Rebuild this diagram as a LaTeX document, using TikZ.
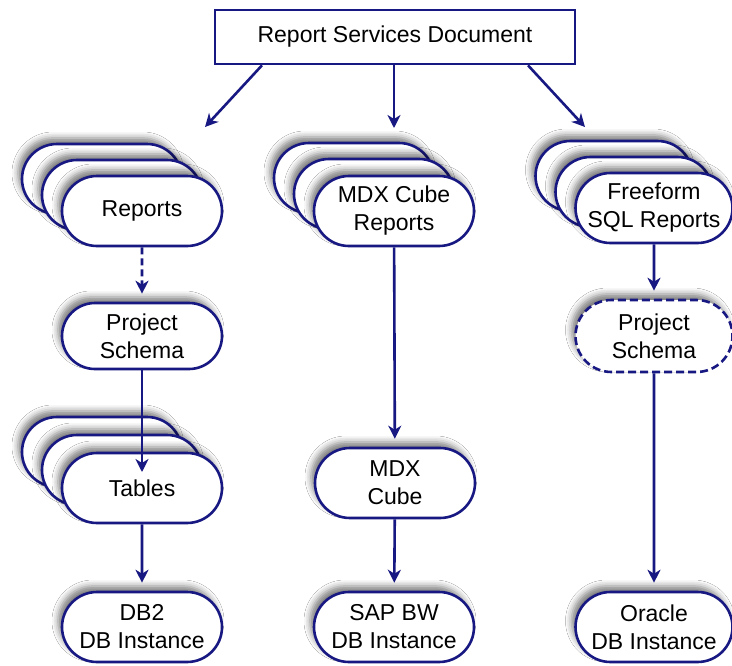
\documentclass[tikz,border=0pt]{standalone}
\usepackage{fontspec}
\setmainfont{Liberation Sans}
\usetikzlibrary{shapes.misc,arrows.meta,shadows.blur}
\definecolor{navy}{RGB}{24,24,130}
\begin{document}
\begin{tikzpicture}[x=1pt,y=-1pt,
  txt/.style={font=\fontsize{23}{28}\selectfont},
  pill/.style={rounded rectangle, draw=navy, line width=2.6pt, fill=white,
    minimum width=160pt, minimum height=70pt, inner sep=0pt, align=center, txt,
    blur shadow={shadow xshift=-4pt, shadow yshift=6pt, shadow blur radius=6pt, shadow opacity=50}},
  dpill/.style={pill, dash pattern=on 8pt off 4pt},
  conn/.style={draw=navy, line width=2.6pt, shorten >=8pt, -{Stealth[length=13pt,width=13pt,inset=4pt]}},
  dconn/.style={conn, dash pattern=on 7pt off 4pt}
]
\path[use as bounding box, fill=white] (0,0) rectangle (732,665);

% top box
\node[draw=navy, line width=2.6pt, fill=white, minimum width=360pt, minimum height=54pt, txt] (doc) at (395,37) {Report Services Document};
\coordinate (lt) at (205,127);
\coordinate (mt) at (394,128);
\coordinate (rt) at (585,127);
\draw[conn, shorten >=0pt] ([xshift=-133pt]doc.south) -- (lt);
\draw[conn, shorten >=0pt] ([xshift=-1pt]doc.south) -- (mt);
\draw[conn, shorten >=0pt] ([xshift=133pt]doc.south) -- (rt);

% left column
\node[pill] (rep3) at (102,179) {};
\node[pill] (rep2) at (122,195) {};
\node[pill] (rep) at (142,211) {Reports};
\node[pill, minimum height=66pt] (ps1) at (142,336) {Project\\Schema};
\draw[dconn] (rep) -- (ps1);
\node[pill] (tab3) at (102,452) {};
\node[pill] (tab2) at (122,470) {};
\node[pill] (tab) at (142,488) {Tables};
\coordinate (tabin) at (142,472);
\draw[conn, shorten >=0pt] (ps1) -- (tabin);
\node[pill] (db2) at (142,627) {DB2\\DB Instance};
\draw[conn] (tab) -- (db2);

% middle column
\node[pill] (mdxr3) at (354,178) {};
\node[pill] (mdxr2) at (374,194) {};
\node[pill] (mdxr) at (394,211) {MDX Cube\\Reports};
\node[pill] (mdx) at (395,483) {MDX\\Cube};
\draw[conn] (mdxr) -- (mdx);
\node[pill] (sap) at (394,627) {SAP BW\\DB Instance};
\draw[conn] (mdx) -- (sap);

% right column
\node[pill, minimum width=157pt] (ff3) at (614,176) {};
\node[pill, minimum width=157pt] (ff2) at (634,192) {};
\node[pill, minimum width=157pt] (ff) at (654,208) {Freeform\\SQL Reports};
\node[dpill, minimum width=157pt, minimum height=72pt] (ps2) at (654,336) {Project\\Schema};
\draw[conn] (ff) -- (ps2);
\node[pill, minimum width=157pt] (ora) at (654,627) {Oracle\\DB Instance};
\draw[conn] (ps2) -- (ora);
\end{tikzpicture}
\end{document}
